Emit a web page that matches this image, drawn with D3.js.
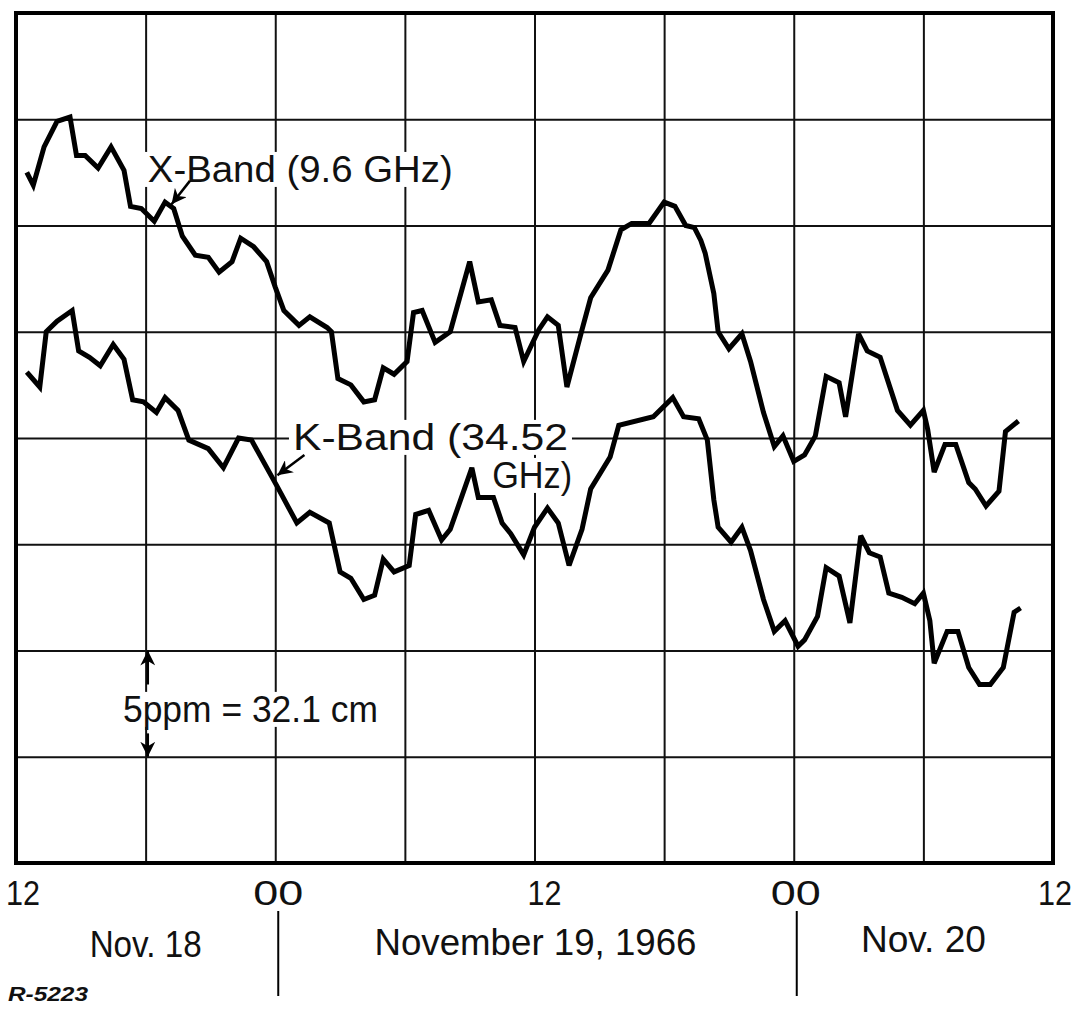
<!DOCTYPE html>
<meta charset="utf-8">
<style>
body { margin: 0; background: #fff; }
svg { display: block; }
.grid line { stroke: #111; stroke-width: 2px; }
.grid path { display: none; }
.frame { fill: none; stroke: #000; stroke-width: 4px; }
.band { fill: none; stroke: #000; stroke-width: 5px; stroke-linejoin: miter; stroke-miterlimit: 3; }
.lbl { font-family: "Liberation Sans", Arial, sans-serif; font-size: 37px; fill: #111; }
.axis-lbl { font-family: "Liberation Sans", Arial, sans-serif; font-size: 37px; fill: #111; }
.tick-lbl { font-family: "Liberation Sans", Arial, sans-serif; font-size: 35px; fill: #111; }
.note { font-family: "Liberation Sans", Arial, sans-serif; font-size: 20px; font-weight: bold; font-style: italic; fill: #111; }
.ann { stroke: #000; stroke-width: 2.5px; fill: none; }
</style>
<body>
<svg id="chart" width="1079" height="1009"></svg>

<script src="https://d3js.org/d3.v7.min.js"></script>
<script>
// hours after 12h Nov 18, 1966
var hoursX = [0.5,0.8,1.3,1.9,2.5,2.8,3.2,3.8,4.4,5.0,5.3,5.8,6.4,6.9,7.3,7.7,8.3,8.9,9.4,10.0,
    10.4,11.0,11.6,12.0,12.4,13.1,13.6,14.4,14.6,14.9,15.5,16.1,16.6,17.0,17.5,18.1,18.4,18.8,19.4,20.1,
    21.0,21.4,22.0,22.4,23.1,23.5,24.2,24.6,25.1,25.5,26.2,26.6,27.4,28.0,28.5,29.3,30.0,30.5,31.0,31.4,
    31.7,31.9,32.3,32.5,33.0,33.6,34.0,34.6,35.1,35.5,36.0,36.5,37.0,37.5,38.1,38.4,39.0,39.4,40.0,40.8,
    41.4,42.0,42.2,42.5,43.0,43.5,44.1,44.4,44.9,45.5,45.8,46.4];
// X-Band (9.6 GHz), ppm
var xBand = [32.5,31.9,33.7,34.9,35.1,33.3,33.3,32.7,33.7,32.6,30.9,30.8,30.2,31.1,30.8,29.5,28.6,28.5,27.8,28.3,
    29.4,29.0,28.3,27.1,26.0,25.3,25.7,25.2,25.0,22.8,22.5,21.7,21.8,23.3,23.0,23.6,25.9,26.0,24.5,25.0,
    28.3,26.4,26.5,25.3,25.2,23.6,25.1,25.7,25.3,22.4,25.1,26.6,27.9,29.8,30.1,30.1,31.1,30.9,30.0,29.9,
    29.3,28.7,26.8,25.0,24.2,24.9,23.6,21.2,19.6,20.1,18.9,19.2,20.1,22.9,22.6,21.0,24.9,24.1,23.8,21.3,
    20.6,21.3,20.4,18.4,19.7,19.7,17.9,17.6,16.8,17.5,20.3,20.8];

var hoursK = [0.5,1.1,1.4,1.9,2.6,2.9,3.4,3.9,4.5,5.0,5.4,5.9,6.5,6.9,7.5,8.0,8.9,9.6,10.3,10.9,
    12.1,13.0,13.6,14.5,15.0,15.5,16.1,16.6,17.0,17.5,18.2,18.5,19.1,19.7,20.1,21.1,21.4,22.1,22.5,22.9,
    23.5,24.0,24.6,25.1,25.6,26.2,26.6,27.5,27.9,29.5,30.4,30.9,31.6,32.0,32.3,32.5,33.1,33.6,34.0,34.6,
    35.1,35.6,36.2,36.5,37.1,37.5,38.1,38.6,39.1,39.5,40.0,40.4,41.0,41.6,42.0,42.3,42.5,43.1,43.6,44.1,
    44.6,45.1,45.7,46.2,46.5];
// K-Band (34.52 GHz), ppm
var kBand = [23.1,22.4,25.0,25.5,26.0,24.1,23.8,23.4,24.4,23.7,21.8,21.7,21.2,21.9,21.3,19.9,19.5,18.6,20.0,19.9,
    17.7,16.0,16.5,16.0,13.7,13.4,12.4,12.6,14.3,13.7,14.0,16.4,16.6,15.2,15.7,18.6,17.2,17.2,16.0,15.5,
    14.5,15.8,16.7,16.0,14.0,15.7,17.6,19.1,20.6,21.0,21.9,21.0,20.9,19.9,17.1,15.8,15.1,15.8,14.7,12.4,
    10.9,11.4,10.2,10.5,11.6,13.9,13.5,11.3,15.4,14.6,14.4,12.7,12.5,12.2,12.7,11.4,9.4,10.9,10.9,9.2,
    8.4,8.4,9.2,11.8,12.0];

var tickHours = [0, 12, 24, 36, 48];
var tickLabels = ["12", "00", "12", "00", "12"];
var dayLabels = ["Nov. 18", "November 19, 1966", "Nov. 20"];
var dayCenters = [6, 24, 42];
var daySplits = [12, 36];

var svg = d3.select("#chart");
var plotL = 16, plotR = 1053, plotT = 13, plotB = 863;

var x = d3.scaleLinear().domain([0, 48]).range([plotL, plotR]);
var y = d3.scaleLinear().domain([0, 40]).range([plotB, plotT]);

// grid
svg.append("g")
   .attr("class", "grid")
   .attr("transform", "translate(0," + plotB + ")")
   .call(d3.axisBottom(x).tickValues(d3.range(0, 49, 6)).tickSize(-(plotB - plotT)).tickFormat(""));
svg.append("g")
   .attr("class", "grid")
   .attr("transform", "translate(" + plotL + ",0)")
   .call(d3.axisLeft(y).tickValues(d3.range(0, 41, 5)).tickSize(-(plotR - plotL)).tickFormat(""));

svg.append("rect")
   .attr("class", "frame")
   .attr("x", plotL).attr("y", plotT)
   .attr("width", plotR - plotL).attr("height", plotB - plotT);

var line = d3.line()
    .x(function(d) { return x(d[0]); })
    .y(function(d) { return y(d[1]); });

svg.append("path").attr("class", "band")
   .datum(d3.zip(hoursX, xBand)).attr("d", line);
svg.append("path").attr("class", "band")
   .datum(d3.zip(hoursK, kBand)).attr("d", line);

// arrowheads
var defs = svg.append("defs");
defs.append("marker")
    .attr("id", "head")
    .attr("viewBox", "0 0 10 10")
    .attr("refX", 10).attr("refY", 5)
    .attr("markerWidth", 6).attr("markerHeight", 6)
    .attr("markerUnits", "strokeWidth")
    .attr("orient", "auto")
  .append("path").attr("d", "M0,0 L10,5 L0,10 L3,5 Z").attr("fill", "#000");

function arrow(h1, v1, h2, v2) {
    svg.append("line").attr("class", "ann")
       .attr("x1", x(h1)).attr("y1", y(v1))
       .attr("x2", x(h2)).attr("y2", y(v2))
       .attr("marker-end", "url(#head)");
}

// labels, each on a white patch that breaks the grid
function label(txt, h, v, len) {
    var g = svg.append("g");
    var bg = g.append("rect").attr("fill", "#fff");
    var t = g.append("text").attr("class", "lbl")
       .attr("x", x(h)).attr("y", y(v))
       .attr("textLength", len).attr("lengthAdjust", "spacingAndGlyphs")
       .text(txt);
    var b = t.node().getBBox();
    bg.attr("x", b.x - 4).attr("y", b.y + 3)
      .attr("width", b.width + 8).attr("height", b.height - 6);
}
label("X-Band (9.6 GHz)", 6.1, 32.05, 305);
label("K-Band (34.52", 12.82, 19.44, 275);
label("GHz)", 22.04, 17.65, 80);
label("5ppm = 32.1 cm", 4.95, 6.64, 255);

arrow(8.05, 32.1, 7.2, 31.0);
arrow(13.35, 19.2, 12.1, 18.25);

// scale bar: one division
arrow(6.1, 8.4, 6.1, 10);
arrow(6.1, 6.1, 6.1, 5);

// x tick labels
var tickShift = [7, 3, 10, 2, 2];
svg.append("g").selectAll("text")
   .data(tickHours)
   .enter().append("text")
   .attr("class", "tick-lbl")
   .attr("text-anchor", "middle")
   .attr("x", function(d, i) { return x(d) + tickShift[i]; })
   .attr("y", plotB + 42)
   .attr("textLength", function(d, i) { return tickLabels[i] == "12" ? 34 : 50; })
   .attr("lengthAdjust", "spacingAndGlyphs")
   .text(function(d, i) { return tickLabels[i]; });

var dayLen = [112, 322, 125];
svg.append("g").selectAll("text")
   .data(dayCenters)
   .enter().append("text")
   .attr("class", "axis-lbl")
   .attr("text-anchor", "middle")
   .attr("x", function(d, i) { return x(d) + [0, 1, 0][i]; })
   .attr("y", function(d, i) { return plotB + [94, 92, 89][i]; })
   .attr("textLength", function(d, i) { return dayLen[i]; })
   .attr("lengthAdjust", "spacingAndGlyphs")
   .text(function(d, i) { return dayLabels[i]; });

svg.append("g").selectAll("line")
   .data(daySplits)
   .enter().append("line")
   .attr("x1", function(d) { return x(d) + 3; })
   .attr("x2", function(d) { return x(d) + 3; })
   .attr("y1", plotB + 48).attr("y2", plotB + 133)
   .attr("stroke", "#000").attr("stroke-width", 2);

svg.append("text").attr("class", "note")
   .attr("x", 8).attr("y", 1001)
   .attr("textLength", 80).attr("lengthAdjust", "spacingAndGlyphs")
   .text("R-5223");
</script>
</body>
